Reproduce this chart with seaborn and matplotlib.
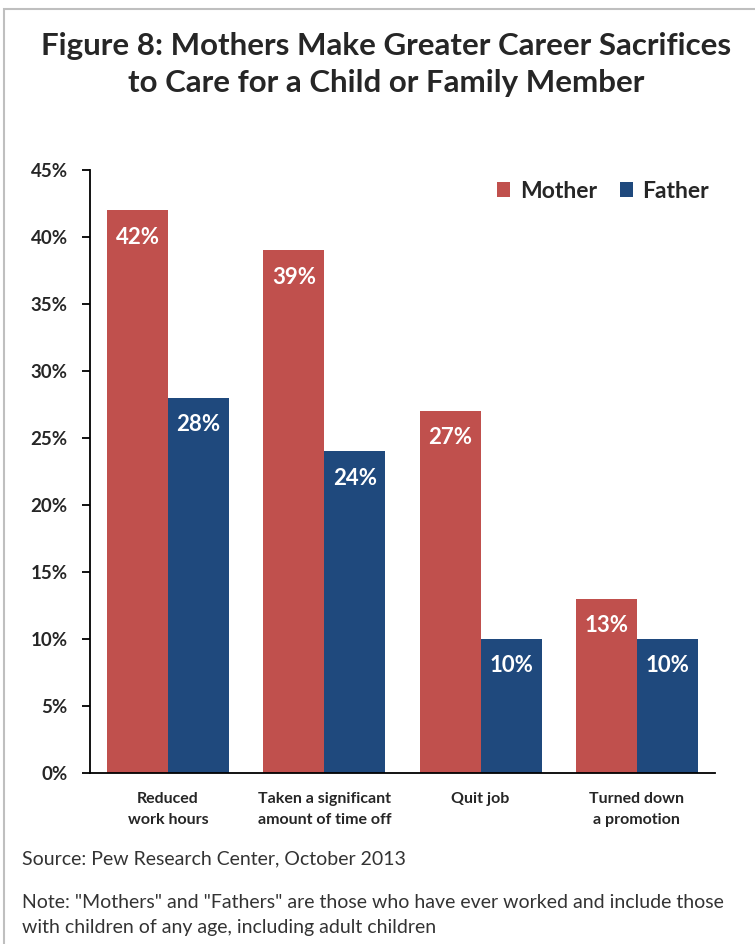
import pandas as pd
import numpy as np
import matplotlib
matplotlib.use('Agg')
import matplotlib.pyplot as plt
import seaborn as sns
from matplotlib.patches import Rectangle

# Data
categories = ['Reduced\nwork hours', 'Taken a significant\namount of time off',
              'Quit job', 'Turned down\na promotion']
mother = [42, 39, 27, 13]
father = [28, 24, 10, 10]
groups = ['Mother', 'Father']
colors = ['#C0504D', '#1F497D']

df = pd.DataFrame({
    'cat': categories * 2,
    'who': ['Mother'] * 4 + ['Father'] * 4,
    'pct': mother + father,
})

sns.set_theme(style='white')
plt.rcParams['font.family'] = ['Lato', 'DejaVu Sans']

fig = plt.figure(figsize=(7.55, 9.44), dpi=100)
ax = fig.add_axes([90 / 755, 1 - 773 / 944, 625 / 755, 603 / 944])

sns.barplot(data=df, x='cat', y='pct', hue='who', hue_order=groups,
            palette=colors, width=0.78, saturation=1, linewidth=0, ax=ax, legend=True)

ax.set_ylim(0, 45)
ax.set_xlim(-0.5, 3.5)
ax.set_yticks(np.arange(0, 46, 5))
ax.set_yticklabels([f'{t}%' for t in range(0, 46, 5)], fontsize=13.5, fontweight='bold')
ax.tick_params(axis='y', direction='out', length=6, width=1.3, color='black', pad=10, left=True)
ax.tick_params(axis='x', length=0, pad=14)
ax.set_xticklabels(categories, fontsize=11.5, fontweight='bold', linespacing=1.6)
ax.set_xlabel('')
ax.set_ylabel('')
for s in ['top', 'right']:
    ax.spines[s].set_visible(False)
for s in ['left', 'bottom']:
    ax.spines[s].set_color('black')
    ax.spines[s].set_linewidth(1.3)

# value labels inside the bars
for cont in ax.containers:
    for bar in cont:
        h = bar.get_height()
        ax.text(bar.get_x() + bar.get_width() / 2, h - 2.0, f'{h:.0f}%',
                ha='center', va='center', color='white', fontsize=16, fontweight='bold')

leg = ax.legend(loc='center right', bbox_to_anchor=(1.013, 0.965), ncol=2, frameon=False,
                fontsize=16.5, handlelength=0.6, handleheight=0.6, handletextpad=0.4,
                columnspacing=1.0, borderpad=0.1)
for t in leg.get_texts():
    t.set_fontweight('bold')

fig.text(0.511, 1 - 46 / 944, 'Figure 8: Mothers Make Greater Career Sacrifices',
         ha='center', va='center', fontsize=22.5, fontweight='bold')
fig.text(0.511, 1 - 83 / 944, 'to Care for a Child or Family Member',
         ha='center', va='center', fontsize=22.5, fontweight='bold')

fig.text(22 / 755, 1 - 859 / 944, 'Source: Pew Research Center, October 2013',
         ha='left', va='center', fontsize=14, color='#333333')
fig.text(22 / 755, 1 - 903 / 944,
         'Note: "Mothers" and "Fathers" are those who have ever worked and include those',
         ha='left', va='center', fontsize=14, color='#333333')
fig.text(22 / 755, 1 - 927 / 944, 'with children of any age, including adult children',
         ha='left', va='center', fontsize=14, color='#333333')

# grey frame around the chart
fig.patches.append(Rectangle((4 / 755, -0.05), 1.2, 1 - 9 / 944 + 0.05,
                             transform=fig.transFigure, fill=False,
                             edgecolor='#BFBFBF', linewidth=1.5))

fig.savefig('out.png', dpi=100)
